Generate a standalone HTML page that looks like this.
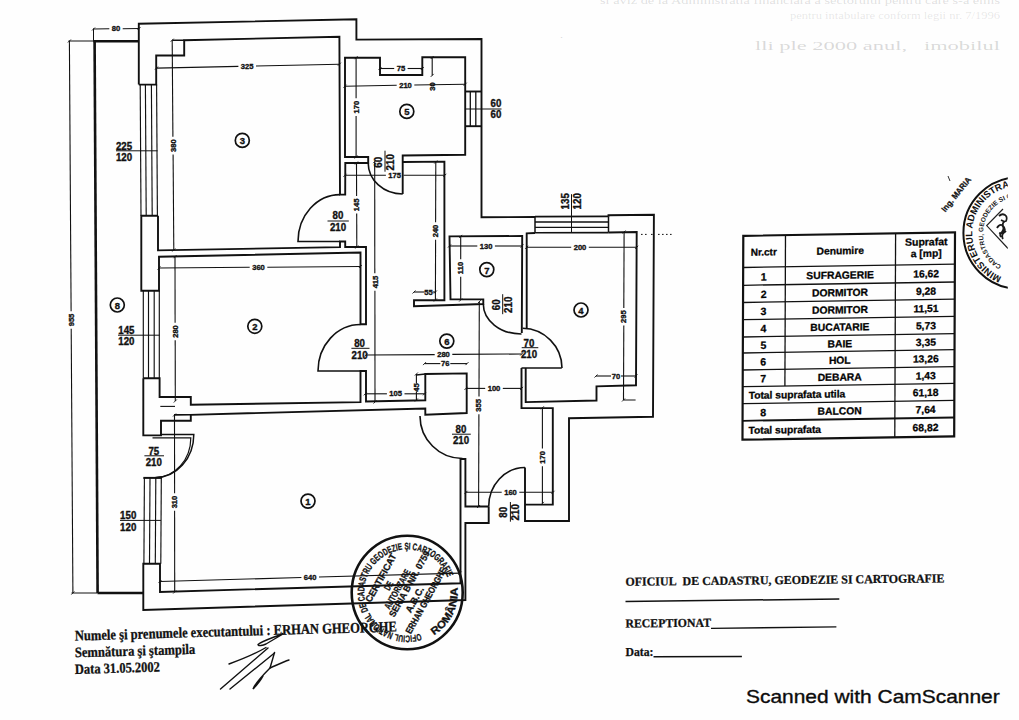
<!DOCTYPE html>
<html><head><meta charset="utf-8">
<style>
html,body{margin:0;padding:0;background:#fefefe;}
body{width:1019px;height:720px;overflow:hidden;position:relative;}
svg{position:absolute;left:0;top:0;-webkit-font-smoothing:antialiased;}
</style></head><body>
<svg width="1019" height="720" viewBox="0 0 1019 720">
<defs><clipPath id="clipR"><rect x="900" y="150" width="107.8" height="160"/></clipPath></defs>
<rect width="1019" height="720" fill="#fefefe"/>
<g fill="#111">
<polyline points="138.8,84.6 138.8,23.7 356.4,19.3 356.4,39.6 481.5,39.0 481.5,217.3 535.0,217.0" fill="none" stroke="#111" stroke-width="1.9" stroke-linejoin="miter" />
<polyline points="608.5,216.7 608.5,215.2 653.9,214.7 653.0,416.7 569.0,418.3 569.0,521.0 525.0,521.0 525.0,467.5" fill="none" stroke="#111" stroke-width="1.9" stroke-linejoin="miter" />
<polyline points="488.7,506.5 488.7,523.0 465.4,523.0 465.4,600.0 143.3,610.0 143.3,563.7 160.0,563.7 160.0,591.9 460.5,583.3 460.5,459.0 465.4,459.0 465.4,506.5 488.7,506.5" fill="none" stroke="#111" stroke-width="1.9" stroke-linejoin="miter" />
<polyline points="535.0,217.0 535.0,232.5" fill="none" stroke="#111" stroke-width="1.5" stroke-linejoin="miter" />
<polyline points="608.5,216.7 608.5,232.5" fill="none" stroke="#111" stroke-width="1.5" stroke-linejoin="miter" />
<line x1="535.0" y1="216.6" x2="608.5" y2="216.4" stroke="#111" stroke-width="1.9"/>
<line x1="535.0" y1="222.0" x2="608.5" y2="222.0" stroke="#111" stroke-width="1.4"/>
<line x1="535.0" y1="227.4" x2="608.5" y2="227.4" stroke="#111" stroke-width="1.4"/>
<line x1="535.0" y1="232.7" x2="608.5" y2="232.6" stroke="#111" stroke-width="1.6"/>
<polyline points="138.8,84.6 156.2,84.6 156.2,55.5 184.2,55.5 184.2,40.2 339.4,36.7 340.0,194.6 345.2,194.6 345.3,163.0 368.2,163.0 368.2,157.0 345.0,157.0 345.0,57.7 380.0,57.7 380.0,75.0 422.3,75.0 422.3,57.3 465.2,57.3 465.2,154.7 402.7,155.5 402.7,194.0" fill="none" stroke="#111" stroke-width="1.9" stroke-linejoin="miter" />
<line x1="470.3" y1="91.5" x2="470.3" y2="126.2" stroke="#111" stroke-width="1.3"/>
<line x1="475.8" y1="91.5" x2="475.8" y2="126.2" stroke="#111" stroke-width="1.3"/>
<line x1="465.2" y1="91.5" x2="481.5" y2="91.5" stroke="#111" stroke-width="1.9"/>
<line x1="465.2" y1="126.2" x2="481.5" y2="126.2" stroke="#111" stroke-width="1.9"/>
<polyline points="402.7,162.0 444.4,161.6 444.4,300.3 414.0,300.3 414.0,306.2 483.3,304.0 483.3,299.4 450.5,299.4 449.5,236.4 522.2,236.0 521.8,333.0" fill="none" stroke="#111" stroke-width="1.9" stroke-linejoin="miter" />
<polyline points="526.7,328.0 526.7,233.3 535.0,233.0" fill="none" stroke="#111" stroke-width="1.9" stroke-linejoin="miter" />
<polyline points="608.5,232.5 636.7,232.0 636.0,385.3 596.5,386.4 596.5,400.5 525.7,402.1 525.7,368.0" fill="none" stroke="#111" stroke-width="1.9" stroke-linejoin="miter" />
<polyline points="521.5,368.0 521.5,408.1 552.8,408.1 552.8,504.6 525.0,504.6" fill="none" stroke="#111" stroke-width="1.9" stroke-linejoin="miter" />
<line x1="521.5" y1="368.0" x2="561.8" y2="368.0" stroke="#111" stroke-width="1.6"/>
<polyline points="158.0,215.8 158.0,250.4 340.0,247.1 340.0,241.5 345.2,241.5 345.2,247.0 366.0,247.0 366.0,324.3 360.5,324.3 360.5,252.5 159.0,256.7 159.0,290.8 141.3,290.8 141.3,215.8 158.0,215.8" fill="none" stroke="#111" stroke-width="1.9" stroke-linejoin="miter" />
<line x1="140.2" y1="84.6" x2="141.0" y2="215.8" stroke="#111" stroke-width="1.15"/>
<line x1="145.4" y1="84.6" x2="146.2" y2="215.8" stroke="#111" stroke-width="1.15"/>
<line x1="151.4" y1="84.6" x2="152.2" y2="215.8" stroke="#111" stroke-width="1.15"/>
<line x1="156.6" y1="84.6" x2="157.4" y2="215.8" stroke="#111" stroke-width="1.15"/>
<line x1="143.3" y1="290.8" x2="143.3" y2="378.3" stroke="#111" stroke-width="1.15"/>
<line x1="148.5" y1="290.8" x2="148.5" y2="378.3" stroke="#111" stroke-width="1.15"/>
<line x1="154.2" y1="290.8" x2="154.2" y2="378.3" stroke="#111" stroke-width="1.15"/>
<line x1="159.3" y1="290.8" x2="159.3" y2="378.3" stroke="#111" stroke-width="1.15"/>
<polyline points="143.3,378.3 143.3,435.4 161.0,435.4 161.0,420.8 190.8,420.8 190.8,414.8 425.3,408.5 425.3,414.8 466.7,413.0 466.7,373.4 425.3,374.0 425.3,400.2 366.0,401.5 366.0,371.0 360.5,371.0 360.5,402.1 190.8,404.8 190.8,397.0 159.6,397.0 159.6,378.3 143.3,378.3" fill="none" stroke="#111" stroke-width="1.9" stroke-linejoin="miter" />
<line x1="144.4" y1="478.0" x2="143.9" y2="563.7" stroke="#111" stroke-width="1.15"/>
<line x1="150.0" y1="478.0" x2="149.5" y2="563.7" stroke="#111" stroke-width="1.15"/>
<line x1="155.8" y1="478.0" x2="155.3" y2="563.7" stroke="#111" stroke-width="1.15"/>
<line x1="161.3" y1="478.0" x2="160.8" y2="563.7" stroke="#111" stroke-width="1.15"/>
<line x1="143.3" y1="477.9" x2="161.7" y2="477.9" stroke="#111" stroke-width="2.0"/>
<line x1="68.5" y1="41.0" x2="93.5" y2="41.0" stroke="#111" stroke-width="1.0"/>
<line x1="93.5" y1="41.3" x2="139.0" y2="41.3" stroke="#111" stroke-width="2.6"/>
<polyline points="94.6,41.0 97.6,593.0" fill="none" stroke="#111" stroke-width="2.6" stroke-linejoin="miter" />
<line x1="71.5" y1="593.0" x2="97.5" y2="593.0" stroke="#111" stroke-width="1.0"/>
<line x1="97.5" y1="593.0" x2="143.3" y2="593.0" stroke="#111" stroke-width="2.6"/>
<path d="M 340 194.6 A 42 47 0 0 0 298 241.5 L 340 241.5" fill="none" stroke="#111" stroke-width="1.6" />
<path d="M 360.5 324.5 A 42.5 46.5 0 0 0 318 371 L 360.5 371" fill="none" stroke="#111" stroke-width="1.6" />
<path d="M 368.2 163 A 34.5 31 0 0 0 402.7 194" fill="none" stroke="#111" stroke-width="1.6" />
<path d="M 420 416 A 42.5 42.5 0 0 0 462.5 458.5" fill="none" stroke="#111" stroke-width="1.6" />
<path d="M 483.3 304 A 38 30 0 0 0 521.5 334" fill="none" stroke="#111" stroke-width="1.6" />
<path d="M 522.7 328.3 A 40 40 0 0 1 562 368" fill="none" stroke="#111" stroke-width="1.6" />
<path d="M 488.7 506.5 A 36.5 39 0 0 1 525 467.5" fill="none" stroke="#111" stroke-width="1.6" />
<path d="M 161 434.4 L 193.8 434.4 A 38.8 43.3 0 0 1 155 477.7" fill="none" stroke="#111" stroke-width="1.5" />
<path d="M 152.5 437.9 L 190.8 437.9 A 35.8 39.6 0 0 1 155 477.5" fill="none" stroke="#111" stroke-width="1.2" />
<line x1="93.5" y1="28.5" x2="93.5" y2="41.5" stroke="#111" stroke-width="1.0"/>
<line x1="172.2" y1="40.3" x2="184.2" y2="40.2" stroke="#111" stroke-width="1.6"/>
<line x1="160.3" y1="406.4" x2="175.0" y2="406.4" stroke="#111" stroke-width="1.1"/>
<line x1="174.0" y1="414.9" x2="190.8" y2="414.8" stroke="#111" stroke-width="1.6"/>
<line x1="416.3" y1="375.0" x2="425.3" y2="374.0" stroke="#111" stroke-width="1.3"/>
<line x1="93.5" y1="29.0" x2="109.3" y2="28.8" stroke="#111" stroke-width="1.1"/>
<line x1="122.7" y1="28.7" x2="139.0" y2="28.5" stroke="#111" stroke-width="1.1"/>
<line x1="92.0" y1="30.5" x2="95.0" y2="27.5" stroke="#111" stroke-width="0.9"/>
<line x1="137.5" y1="30.0" x2="140.5" y2="27.0" stroke="#111" stroke-width="0.9"/>
<text x="116.0" y="28.8" font-family="Liberation Sans" font-size="7.90" font-weight="bold" text-anchor="middle" dominant-baseline="central" textLength="8.45" lengthAdjust="spacingAndGlyphs" stroke="#111" stroke-width="0.35" >80</text>
<line x1="69.4" y1="41.0" x2="71.1" y2="311.2" stroke="#111" stroke-width="1.1"/>
<line x1="71.2" y1="328.8" x2="72.9" y2="593.0" stroke="#111" stroke-width="1.1"/>
<line x1="67.9" y1="42.5" x2="70.9" y2="39.5" stroke="#111" stroke-width="0.9"/>
<line x1="71.4" y1="594.5" x2="74.4" y2="591.5" stroke="#111" stroke-width="0.9"/>
<text x="71.5" y="320.0" font-family="Liberation Sans" font-size="7.90" font-weight="bold" text-anchor="middle" dominant-baseline="central" textLength="12.68" lengthAdjust="spacingAndGlyphs" stroke="#111" stroke-width="0.35" transform="rotate(-90 71.5 320.0)" >955</text>
<line x1="156.5" y1="68.1" x2="238.4" y2="66.4" stroke="#111" stroke-width="1.1"/>
<line x1="256.0" y1="66.0" x2="339.4" y2="64.2" stroke="#111" stroke-width="1.1"/>
<line x1="155.0" y1="69.6" x2="158.0" y2="66.6" stroke="#111" stroke-width="0.9"/>
<line x1="337.9" y1="65.7" x2="340.9" y2="62.7" stroke="#111" stroke-width="0.9"/>
<text x="247.2" y="66.2" font-family="Liberation Sans" font-size="7.90" font-weight="bold" text-anchor="middle" dominant-baseline="central" textLength="12.68" lengthAdjust="spacingAndGlyphs" stroke="#111" stroke-width="0.35" >325</text>
<line x1="172.2" y1="40.2" x2="172.9" y2="136.8" stroke="#111" stroke-width="1.1"/>
<line x1="173.1" y1="154.4" x2="173.8" y2="250.0" stroke="#111" stroke-width="1.1"/>
<line x1="170.7" y1="41.7" x2="173.7" y2="38.7" stroke="#111" stroke-width="0.9"/>
<line x1="172.3" y1="251.5" x2="175.3" y2="248.5" stroke="#111" stroke-width="0.9"/>
<text x="173.3" y="145.6" font-family="Liberation Sans" font-size="7.90" font-weight="bold" text-anchor="middle" dominant-baseline="central" textLength="12.68" lengthAdjust="spacingAndGlyphs" stroke="#111" stroke-width="0.35" transform="rotate(-90 173.3 145.6)" >380</text>
<line x1="159.0" y1="268.0" x2="249.7" y2="267.3" stroke="#111" stroke-width="1.1"/>
<line x1="267.3" y1="267.2" x2="360.4" y2="266.5" stroke="#111" stroke-width="1.1"/>
<line x1="157.5" y1="269.5" x2="160.5" y2="266.5" stroke="#111" stroke-width="0.9"/>
<line x1="358.9" y1="268.0" x2="361.9" y2="265.0" stroke="#111" stroke-width="0.9"/>
<text x="258.5" y="267.4" font-family="Liberation Sans" font-size="7.90" font-weight="bold" text-anchor="middle" dominant-baseline="central" textLength="12.68" lengthAdjust="spacingAndGlyphs" stroke="#111" stroke-width="0.35" >360</text>
<line x1="175.0" y1="256.7" x2="175.1" y2="322.7" stroke="#111" stroke-width="1.1"/>
<line x1="175.2" y1="340.3" x2="175.3" y2="401.0" stroke="#111" stroke-width="1.1"/>
<line x1="173.5" y1="258.2" x2="176.5" y2="255.2" stroke="#111" stroke-width="0.9"/>
<line x1="173.8" y1="402.5" x2="176.8" y2="399.5" stroke="#111" stroke-width="0.9"/>
<text x="175.2" y="331.5" font-family="Liberation Sans" font-size="7.90" font-weight="bold" text-anchor="middle" dominant-baseline="central" textLength="12.68" lengthAdjust="spacingAndGlyphs" stroke="#111" stroke-width="0.35" transform="rotate(-90 175.2 331.5)" >280</text>
<line x1="174.5" y1="415.0" x2="174.6" y2="493.2" stroke="#111" stroke-width="1.1"/>
<line x1="174.6" y1="510.8" x2="174.7" y2="592.0" stroke="#111" stroke-width="1.1"/>
<line x1="173.0" y1="416.5" x2="176.0" y2="413.5" stroke="#111" stroke-width="0.9"/>
<line x1="173.2" y1="593.5" x2="176.2" y2="590.5" stroke="#111" stroke-width="0.9"/>
<text x="174.6" y="502.0" font-family="Liberation Sans" font-size="7.90" font-weight="bold" text-anchor="middle" dominant-baseline="central" textLength="12.68" lengthAdjust="spacingAndGlyphs" stroke="#111" stroke-width="0.35" transform="rotate(-90 174.6 502.0)" >310</text>
<line x1="160.0" y1="581.5" x2="301.4" y2="577.5" stroke="#111" stroke-width="1.1"/>
<line x1="319.0" y1="577.0" x2="460.0" y2="573.1" stroke="#111" stroke-width="1.1"/>
<line x1="158.5" y1="583.0" x2="161.5" y2="580.0" stroke="#111" stroke-width="0.9"/>
<line x1="458.5" y1="574.6" x2="461.5" y2="571.6" stroke="#111" stroke-width="0.9"/>
<text x="310.2" y="577.3" font-family="Liberation Sans" font-size="7.90" font-weight="bold" text-anchor="middle" dominant-baseline="central" textLength="12.68" lengthAdjust="spacingAndGlyphs" stroke="#111" stroke-width="0.35" >640</text>
<line x1="356.1" y1="57.7" x2="356.1" y2="98.3" stroke="#111" stroke-width="1.1"/>
<line x1="356.1" y1="115.9" x2="356.1" y2="157.0" stroke="#111" stroke-width="1.1"/>
<line x1="354.6" y1="59.2" x2="357.6" y2="56.2" stroke="#111" stroke-width="0.9"/>
<line x1="354.6" y1="158.5" x2="357.6" y2="155.5" stroke="#111" stroke-width="0.9"/>
<text x="356.1" y="107.1" font-family="Liberation Sans" font-size="7.90" font-weight="bold" text-anchor="middle" dominant-baseline="central" textLength="12.68" lengthAdjust="spacingAndGlyphs" stroke="#111" stroke-width="0.35" transform="rotate(-90 356.1 107.1)" >170</text>
<line x1="380.0" y1="68.5" x2="394.2" y2="68.5" stroke="#111" stroke-width="1.1"/>
<line x1="407.6" y1="68.5" x2="422.3" y2="68.5" stroke="#111" stroke-width="1.1"/>
<line x1="378.5" y1="70.0" x2="381.5" y2="67.0" stroke="#111" stroke-width="0.9"/>
<line x1="420.8" y1="70.0" x2="423.8" y2="67.0" stroke="#111" stroke-width="0.9"/>
<text x="400.9" y="68.5" font-family="Liberation Sans" font-size="7.90" font-weight="bold" text-anchor="middle" dominant-baseline="central" textLength="8.45" lengthAdjust="spacingAndGlyphs" stroke="#111" stroke-width="0.35" >75</text>
<line x1="432.2" y1="57.5" x2="432.2" y2="66.0" stroke="#111" stroke-width="1.1"/>
<line x1="432.2" y1="66.0" x2="432.2" y2="75.4" stroke="#111" stroke-width="1.1"/>
<line x1="430.7" y1="59.0" x2="433.7" y2="56.0" stroke="#111" stroke-width="0.9"/>
<line x1="430.7" y1="76.9" x2="433.7" y2="73.9" stroke="#111" stroke-width="0.9"/>
<text x="432.2" y="86.6" font-family="Liberation Sans" font-size="7.90" font-weight="bold" text-anchor="middle" dominant-baseline="central" textLength="8.45" lengthAdjust="spacingAndGlyphs" stroke="#111" stroke-width="0.35" transform="rotate(-90 432.2 86.6)" >30</text>
<line x1="345.0" y1="86.2" x2="396.7" y2="85.3" stroke="#111" stroke-width="1.1"/>
<line x1="414.3" y1="85.0" x2="465.2" y2="84.2" stroke="#111" stroke-width="1.1"/>
<line x1="343.5" y1="87.7" x2="346.5" y2="84.7" stroke="#111" stroke-width="0.9"/>
<line x1="463.7" y1="85.7" x2="466.7" y2="82.7" stroke="#111" stroke-width="0.9"/>
<text x="405.5" y="85.5" font-family="Liberation Sans" font-size="7.90" font-weight="bold" text-anchor="middle" dominant-baseline="central" textLength="12.68" lengthAdjust="spacingAndGlyphs" stroke="#111" stroke-width="0.35" >210</text>
<line x1="356.5" y1="163.0" x2="356.6" y2="196.0" stroke="#111" stroke-width="1.1"/>
<line x1="356.7" y1="213.6" x2="356.8" y2="247.0" stroke="#111" stroke-width="1.1"/>
<line x1="355.0" y1="164.5" x2="358.0" y2="161.5" stroke="#111" stroke-width="0.9"/>
<line x1="355.3" y1="248.5" x2="358.3" y2="245.5" stroke="#111" stroke-width="0.9"/>
<text x="356.6" y="204.8" font-family="Liberation Sans" font-size="7.90" font-weight="bold" text-anchor="middle" dominant-baseline="central" textLength="12.68" lengthAdjust="spacingAndGlyphs" stroke="#111" stroke-width="0.35" transform="rotate(-90 356.6 204.8)" >145</text>
<line x1="374.7" y1="161.6" x2="374.8" y2="273.2" stroke="#111" stroke-width="1.1"/>
<line x1="374.9" y1="290.8" x2="375.0" y2="402.0" stroke="#111" stroke-width="1.1"/>
<line x1="373.2" y1="163.1" x2="376.2" y2="160.1" stroke="#111" stroke-width="0.9"/>
<line x1="373.5" y1="403.5" x2="376.5" y2="400.5" stroke="#111" stroke-width="0.9"/>
<text x="375.0" y="282.0" font-family="Liberation Sans" font-size="7.90" font-weight="bold" text-anchor="middle" dominant-baseline="central" textLength="12.68" lengthAdjust="spacingAndGlyphs" stroke="#111" stroke-width="0.35" transform="rotate(-90 375.0 282.0)" >415</text>
<line x1="345.0" y1="175.3" x2="385.9" y2="175.3" stroke="#111" stroke-width="1.1"/>
<line x1="403.5" y1="175.3" x2="444.8" y2="175.3" stroke="#111" stroke-width="1.1"/>
<line x1="343.5" y1="176.8" x2="346.5" y2="173.8" stroke="#111" stroke-width="0.9"/>
<line x1="443.3" y1="176.8" x2="446.3" y2="173.8" stroke="#111" stroke-width="0.9"/>
<text x="394.7" y="175.3" font-family="Liberation Sans" font-size="7.90" font-weight="bold" text-anchor="middle" dominant-baseline="central" textLength="12.68" lengthAdjust="spacingAndGlyphs" stroke="#111" stroke-width="0.35" >175</text>
<line x1="435.8" y1="162.0" x2="435.6" y2="222.2" stroke="#111" stroke-width="1.1"/>
<line x1="435.6" y1="239.8" x2="435.4" y2="300.0" stroke="#111" stroke-width="1.1"/>
<line x1="434.3" y1="163.5" x2="437.3" y2="160.5" stroke="#111" stroke-width="0.9"/>
<line x1="433.9" y1="301.5" x2="436.9" y2="298.5" stroke="#111" stroke-width="0.9"/>
<text x="435.8" y="231.0" font-family="Liberation Sans" font-size="7.90" font-weight="bold" text-anchor="middle" dominant-baseline="central" textLength="12.68" lengthAdjust="spacingAndGlyphs" stroke="#111" stroke-width="0.35" transform="rotate(-90 435.8 231.0)" >240</text>
<line x1="414.0" y1="292.0" x2="424.5" y2="292.0" stroke="#111" stroke-width="1.1"/>
<line x1="432.5" y1="292.0" x2="435.4" y2="292.0" stroke="#111" stroke-width="1.1"/>
<line x1="412.5" y1="293.5" x2="415.5" y2="290.5" stroke="#111" stroke-width="0.9"/>
<line x1="433.9" y1="293.5" x2="436.9" y2="290.5" stroke="#111" stroke-width="0.9"/>
<text x="428.5" y="292.0" font-family="Liberation Sans" font-size="7.90" font-weight="bold" text-anchor="middle" dominant-baseline="central" textLength="8.45" lengthAdjust="spacingAndGlyphs" stroke="#111" stroke-width="0.35" >55</text>
<line x1="449.5" y1="246.0" x2="477.3" y2="246.0" stroke="#111" stroke-width="1.1"/>
<line x1="494.9" y1="246.0" x2="522.0" y2="246.0" stroke="#111" stroke-width="1.1"/>
<line x1="448.0" y1="247.5" x2="451.0" y2="244.5" stroke="#111" stroke-width="0.9"/>
<line x1="520.5" y1="247.5" x2="523.5" y2="244.5" stroke="#111" stroke-width="0.9"/>
<text x="486.1" y="246.0" font-family="Liberation Sans" font-size="7.90" font-weight="bold" text-anchor="middle" dominant-baseline="central" textLength="12.68" lengthAdjust="spacingAndGlyphs" stroke="#111" stroke-width="0.35" >130</text>
<line x1="460.7" y1="236.4" x2="460.7" y2="259.2" stroke="#111" stroke-width="1.1"/>
<line x1="460.7" y1="276.8" x2="460.7" y2="300.0" stroke="#111" stroke-width="1.1"/>
<line x1="459.2" y1="237.9" x2="462.2" y2="234.9" stroke="#111" stroke-width="0.9"/>
<line x1="459.2" y1="301.5" x2="462.2" y2="298.5" stroke="#111" stroke-width="0.9"/>
<text x="460.7" y="268.0" font-family="Liberation Sans" font-size="7.90" font-weight="bold" text-anchor="middle" dominant-baseline="central" textLength="12.26" lengthAdjust="spacingAndGlyphs" stroke="#111" stroke-width="0.35" transform="rotate(-90 460.7 268.0)" >110</text>
<line x1="526.7" y1="247.3" x2="571.2" y2="247.3" stroke="#111" stroke-width="1.1"/>
<line x1="588.8" y1="247.3" x2="636.7" y2="247.3" stroke="#111" stroke-width="1.1"/>
<line x1="525.2" y1="248.8" x2="528.2" y2="245.8" stroke="#111" stroke-width="0.9"/>
<line x1="635.2" y1="248.8" x2="638.2" y2="245.8" stroke="#111" stroke-width="0.9"/>
<text x="580.0" y="247.3" font-family="Liberation Sans" font-size="7.90" font-weight="bold" text-anchor="middle" dominant-baseline="central" textLength="12.68" lengthAdjust="spacingAndGlyphs" stroke="#111" stroke-width="0.35" >200</text>
<line x1="624.1" y1="232.0" x2="623.8" y2="307.9" stroke="#111" stroke-width="1.1"/>
<line x1="623.8" y1="325.5" x2="623.5" y2="400.0" stroke="#111" stroke-width="1.1"/>
<line x1="622.6" y1="233.5" x2="625.6" y2="230.5" stroke="#111" stroke-width="0.9"/>
<line x1="622.0" y1="401.5" x2="625.0" y2="398.5" stroke="#111" stroke-width="0.9"/>
<text x="623.8" y="316.7" font-family="Liberation Sans" font-size="7.90" font-weight="bold" text-anchor="middle" dominant-baseline="central" textLength="12.68" lengthAdjust="spacingAndGlyphs" stroke="#111" stroke-width="0.35" transform="rotate(-90 623.8 316.7)" >295</text>
<line x1="623.5" y1="400.0" x2="635.6" y2="400.0" stroke="#111" stroke-width="1.0"/>
<line x1="641.0" y1="234.4" x2="642.6" y2="234.4" stroke="#111" stroke-width="1.0"/>
<line x1="645.0" y1="234.4" x2="646.6" y2="234.4" stroke="#111" stroke-width="1.0"/>
<line x1="651.0" y1="234.4" x2="652.6" y2="234.4" stroke="#111" stroke-width="1.0"/>
<line x1="658.0" y1="234.4" x2="659.6" y2="234.4" stroke="#111" stroke-width="1.0"/>
<line x1="662.0" y1="234.4" x2="663.6" y2="234.4" stroke="#111" stroke-width="1.0"/>
<line x1="666.0" y1="234.4" x2="667.6" y2="234.4" stroke="#111" stroke-width="1.0"/>
<line x1="670.0" y1="234.4" x2="671.6" y2="234.4" stroke="#111" stroke-width="1.0"/>
<line x1="596.0" y1="376.0" x2="611.0" y2="376.0" stroke="#111" stroke-width="1.1"/>
<line x1="621.0" y1="376.0" x2="636.0" y2="376.0" stroke="#111" stroke-width="1.1"/>
<line x1="594.5" y1="377.5" x2="597.5" y2="374.5" stroke="#111" stroke-width="0.9"/>
<line x1="634.5" y1="377.5" x2="637.5" y2="374.5" stroke="#111" stroke-width="0.9"/>
<text x="616.0" y="376.0" font-family="Liberation Sans" font-size="7.90" font-weight="bold" text-anchor="middle" dominant-baseline="central" textLength="8.45" lengthAdjust="spacingAndGlyphs" stroke="#111" stroke-width="0.35" >70</text>
<line x1="365.9" y1="355.0" x2="434.7" y2="354.6" stroke="#111" stroke-width="1.1"/>
<line x1="452.3" y1="354.4" x2="521.7" y2="354.0" stroke="#111" stroke-width="1.1"/>
<line x1="364.4" y1="356.5" x2="367.4" y2="353.5" stroke="#111" stroke-width="0.9"/>
<line x1="520.2" y1="355.5" x2="523.2" y2="352.5" stroke="#111" stroke-width="0.9"/>
<text x="443.5" y="354.3" font-family="Liberation Sans" font-size="7.90" font-weight="bold" text-anchor="middle" dominant-baseline="central" textLength="12.68" lengthAdjust="spacingAndGlyphs" stroke="#111" stroke-width="0.35" >280</text>
<line x1="424.5" y1="363.6" x2="440.3" y2="363.6" stroke="#111" stroke-width="1.1"/>
<line x1="450.3" y1="363.6" x2="467.0" y2="363.6" stroke="#111" stroke-width="1.1"/>
<line x1="423.0" y1="365.1" x2="426.0" y2="362.1" stroke="#111" stroke-width="0.9"/>
<line x1="465.5" y1="365.1" x2="468.5" y2="362.1" stroke="#111" stroke-width="0.9"/>
<text x="445.3" y="363.6" font-family="Liberation Sans" font-size="7.90" font-weight="bold" text-anchor="middle" dominant-baseline="central" textLength="8.45" lengthAdjust="spacingAndGlyphs" stroke="#111" stroke-width="0.35" >76</text>
<line x1="365.3" y1="393.8" x2="386.9" y2="393.8" stroke="#111" stroke-width="1.1"/>
<line x1="404.5" y1="393.8" x2="424.5" y2="393.8" stroke="#111" stroke-width="1.1"/>
<line x1="363.8" y1="395.3" x2="366.8" y2="392.3" stroke="#111" stroke-width="0.9"/>
<line x1="423.0" y1="395.3" x2="426.0" y2="392.3" stroke="#111" stroke-width="0.9"/>
<text x="395.7" y="393.8" font-family="Liberation Sans" font-size="7.90" font-weight="bold" text-anchor="middle" dominant-baseline="central" textLength="12.68" lengthAdjust="spacingAndGlyphs" stroke="#111" stroke-width="0.35" >105</text>
<line x1="416.4" y1="374.0" x2="416.4" y2="383.5" stroke="#111" stroke-width="1.1"/>
<line x1="416.4" y1="391.5" x2="416.4" y2="400.0" stroke="#111" stroke-width="1.1"/>
<line x1="414.9" y1="375.5" x2="417.9" y2="372.5" stroke="#111" stroke-width="0.9"/>
<line x1="414.9" y1="401.5" x2="417.9" y2="398.5" stroke="#111" stroke-width="0.9"/>
<text x="416.4" y="387.5" font-family="Liberation Sans" font-size="7.90" font-weight="bold" text-anchor="middle" dominant-baseline="central" textLength="8.45" lengthAdjust="spacingAndGlyphs" stroke="#111" stroke-width="0.35" transform="rotate(-90 416.4 387.5)" >45</text>
<line x1="466.0" y1="388.4" x2="485.2" y2="388.4" stroke="#111" stroke-width="1.1"/>
<line x1="502.8" y1="388.4" x2="521.6" y2="388.4" stroke="#111" stroke-width="1.1"/>
<line x1="464.5" y1="389.9" x2="467.5" y2="386.9" stroke="#111" stroke-width="0.9"/>
<line x1="520.1" y1="389.9" x2="523.1" y2="386.9" stroke="#111" stroke-width="0.9"/>
<text x="494.0" y="388.4" font-family="Liberation Sans" font-size="7.90" font-weight="bold" text-anchor="middle" dominant-baseline="central" textLength="12.68" lengthAdjust="spacingAndGlyphs" stroke="#111" stroke-width="0.35" >100</text>
<line x1="479.3" y1="301.7" x2="479.0" y2="396.6" stroke="#111" stroke-width="1.1"/>
<line x1="478.9" y1="414.2" x2="478.6" y2="506.5" stroke="#111" stroke-width="1.1"/>
<line x1="477.8" y1="303.2" x2="480.8" y2="300.2" stroke="#111" stroke-width="0.9"/>
<line x1="477.1" y1="508.0" x2="480.1" y2="505.0" stroke="#111" stroke-width="0.9"/>
<text x="478.6" y="405.4" font-family="Liberation Sans" font-size="7.90" font-weight="bold" text-anchor="middle" dominant-baseline="central" textLength="12.68" lengthAdjust="spacingAndGlyphs" stroke="#111" stroke-width="0.35" transform="rotate(-90 478.6 405.4)" >355</text>
<line x1="542.4" y1="407.8" x2="542.4" y2="448.6" stroke="#111" stroke-width="1.1"/>
<line x1="542.4" y1="466.2" x2="542.4" y2="503.4" stroke="#111" stroke-width="1.1"/>
<line x1="540.9" y1="409.3" x2="543.9" y2="406.3" stroke="#111" stroke-width="0.9"/>
<line x1="540.9" y1="504.9" x2="543.9" y2="501.9" stroke="#111" stroke-width="0.9"/>
<text x="542.4" y="457.4" font-family="Liberation Sans" font-size="7.90" font-weight="bold" text-anchor="middle" dominant-baseline="central" textLength="12.68" lengthAdjust="spacingAndGlyphs" stroke="#111" stroke-width="0.35" transform="rotate(-90 542.4 457.4)" >170</text>
<line x1="466.0" y1="492.3" x2="501.7" y2="492.3" stroke="#111" stroke-width="1.1"/>
<line x1="519.3" y1="492.3" x2="553.0" y2="492.3" stroke="#111" stroke-width="1.1"/>
<line x1="464.5" y1="493.8" x2="467.5" y2="490.8" stroke="#111" stroke-width="0.9"/>
<line x1="551.5" y1="493.8" x2="554.5" y2="490.8" stroke="#111" stroke-width="0.9"/>
<text x="510.5" y="492.3" font-family="Liberation Sans" font-size="7.90" font-weight="bold" text-anchor="middle" dominant-baseline="central" textLength="12.68" lengthAdjust="spacingAndGlyphs" stroke="#111" stroke-width="0.35" >160</text>
<text x="124.0" y="146.2" font-family="Liberation Sans" font-size="10.09" font-weight="bold" text-anchor="middle" dominant-baseline="central" textLength="16.18" lengthAdjust="spacingAndGlyphs" stroke="#111" stroke-width="0.35" >225</text>
<text x="124.0" y="157.5" font-family="Liberation Sans" font-size="10.09" font-weight="bold" text-anchor="middle" dominant-baseline="central" textLength="16.18" lengthAdjust="spacingAndGlyphs" stroke="#111" stroke-width="0.35" >120</text>
<line x1="116.0" y1="150.8" x2="157.5" y2="150.8" stroke="#111" stroke-width="1.0"/>
<text x="126.4" y="330.0" font-family="Liberation Sans" font-size="10.09" font-weight="bold" text-anchor="middle" dominant-baseline="central" textLength="16.18" lengthAdjust="spacingAndGlyphs" stroke="#111" stroke-width="0.35" >145</text>
<text x="126.4" y="341.3" font-family="Liberation Sans" font-size="10.09" font-weight="bold" text-anchor="middle" dominant-baseline="central" textLength="16.18" lengthAdjust="spacingAndGlyphs" stroke="#111" stroke-width="0.35" >120</text>
<line x1="118.0" y1="335.2" x2="159.5" y2="335.2" stroke="#111" stroke-width="1.0"/>
<text x="128.2" y="515.6" font-family="Liberation Sans" font-size="10.09" font-weight="bold" text-anchor="middle" dominant-baseline="central" textLength="16.18" lengthAdjust="spacingAndGlyphs" stroke="#111" stroke-width="0.35" >150</text>
<text x="128.2" y="527.0" font-family="Liberation Sans" font-size="10.09" font-weight="bold" text-anchor="middle" dominant-baseline="central" textLength="16.18" lengthAdjust="spacingAndGlyphs" stroke="#111" stroke-width="0.35" >120</text>
<line x1="120.0" y1="520.4" x2="161.0" y2="520.4" stroke="#111" stroke-width="1.0"/>
<text x="153.8" y="451.0" font-family="Liberation Sans" font-size="10.09" font-weight="bold" text-anchor="middle" dominant-baseline="central" textLength="10.79" lengthAdjust="spacingAndGlyphs" stroke="#111" stroke-width="0.35" >75</text>
<text x="153.8" y="462.0" font-family="Liberation Sans" font-size="10.09" font-weight="bold" text-anchor="middle" dominant-baseline="central" textLength="16.18" lengthAdjust="spacingAndGlyphs" stroke="#111" stroke-width="0.35" >210</text>
<line x1="144.4" y1="455.8" x2="164.0" y2="455.8" stroke="#111" stroke-width="1.0"/>
<text x="338.0" y="215.5" font-family="Liberation Sans" font-size="10.09" font-weight="bold" text-anchor="middle" dominant-baseline="central" textLength="10.79" lengthAdjust="spacingAndGlyphs" stroke="#111" stroke-width="0.35" >80</text>
<text x="338.0" y="227.0" font-family="Liberation Sans" font-size="10.09" font-weight="bold" text-anchor="middle" dominant-baseline="central" textLength="16.18" lengthAdjust="spacingAndGlyphs" stroke="#111" stroke-width="0.35" >210</text>
<line x1="327.5" y1="221.0" x2="348.8" y2="221.0" stroke="#111" stroke-width="1.0"/>
<text x="359.6" y="343.2" font-family="Liberation Sans" font-size="10.09" font-weight="bold" text-anchor="middle" dominant-baseline="central" textLength="10.79" lengthAdjust="spacingAndGlyphs" stroke="#111" stroke-width="0.35" >80</text>
<text x="359.6" y="355.0" font-family="Liberation Sans" font-size="10.09" font-weight="bold" text-anchor="middle" dominant-baseline="central" textLength="16.18" lengthAdjust="spacingAndGlyphs" stroke="#111" stroke-width="0.35" >210</text>
<line x1="351.4" y1="348.3" x2="369.5" y2="348.3" stroke="#111" stroke-width="1.0"/>
<text x="461.0" y="429.0" font-family="Liberation Sans" font-size="10.09" font-weight="bold" text-anchor="middle" dominant-baseline="central" textLength="10.79" lengthAdjust="spacingAndGlyphs" stroke="#111" stroke-width="0.35" >80</text>
<text x="461.0" y="440.8" font-family="Liberation Sans" font-size="10.09" font-weight="bold" text-anchor="middle" dominant-baseline="central" textLength="16.18" lengthAdjust="spacingAndGlyphs" stroke="#111" stroke-width="0.35" >210</text>
<line x1="452.0" y1="434.2" x2="470.8" y2="434.2" stroke="#111" stroke-width="1.0"/>
<text x="529.0" y="343.3" font-family="Liberation Sans" font-size="10.09" font-weight="bold" text-anchor="middle" dominant-baseline="central" textLength="10.79" lengthAdjust="spacingAndGlyphs" stroke="#111" stroke-width="0.35" >70</text>
<text x="529.0" y="354.0" font-family="Liberation Sans" font-size="10.09" font-weight="bold" text-anchor="middle" dominant-baseline="central" textLength="16.18" lengthAdjust="spacingAndGlyphs" stroke="#111" stroke-width="0.35" >210</text>
<line x1="521.7" y1="347.7" x2="538.3" y2="347.7" stroke="#111" stroke-width="1.0"/>
<text x="496.0" y="103.0" font-family="Liberation Sans" font-size="10.09" font-weight="bold" text-anchor="middle" dominant-baseline="central" textLength="10.79" lengthAdjust="spacingAndGlyphs" stroke="#111" stroke-width="0.35" >60</text>
<text x="496.0" y="114.6" font-family="Liberation Sans" font-size="10.09" font-weight="bold" text-anchor="middle" dominant-baseline="central" textLength="10.79" lengthAdjust="spacingAndGlyphs" stroke="#111" stroke-width="0.35" >60</text>
<line x1="465.2" y1="109.0" x2="501.5" y2="109.0" stroke="#111" stroke-width="1.0"/>
<text x="378.3" y="162.3" font-family="Liberation Sans" font-size="10.09" font-weight="bold" text-anchor="middle" dominant-baseline="central" textLength="10.79" lengthAdjust="spacingAndGlyphs" stroke="#111" stroke-width="0.35" transform="rotate(-90 378.3 162.3)" >60</text>
<text x="390.7" y="162.3" font-family="Liberation Sans" font-size="10.09" font-weight="bold" text-anchor="middle" dominant-baseline="central" textLength="16.18" lengthAdjust="spacingAndGlyphs" stroke="#111" stroke-width="0.35" transform="rotate(-90 390.7 162.3)" >210</text>
<line x1="385.0" y1="150.7" x2="385.0" y2="171.7" stroke="#111" stroke-width="1.0"/>
<text x="497.0" y="304.8" font-family="Liberation Sans" font-size="10.09" font-weight="bold" text-anchor="middle" dominant-baseline="central" textLength="10.79" lengthAdjust="spacingAndGlyphs" stroke="#111" stroke-width="0.35" transform="rotate(-90 497.0 304.8)" >60</text>
<text x="508.6" y="304.8" font-family="Liberation Sans" font-size="10.09" font-weight="bold" text-anchor="middle" dominant-baseline="central" textLength="16.18" lengthAdjust="spacingAndGlyphs" stroke="#111" stroke-width="0.35" transform="rotate(-90 508.6 304.8)" >210</text>
<line x1="502.7" y1="294.2" x2="502.7" y2="314.2" stroke="#111" stroke-width="1.0"/>
<text x="504.0" y="512.3" font-family="Liberation Sans" font-size="10.09" font-weight="bold" text-anchor="middle" dominant-baseline="central" textLength="10.79" lengthAdjust="spacingAndGlyphs" stroke="#111" stroke-width="0.35" transform="rotate(-90 504.0 512.3)" >80</text>
<text x="515.8" y="512.3" font-family="Liberation Sans" font-size="10.09" font-weight="bold" text-anchor="middle" dominant-baseline="central" textLength="16.18" lengthAdjust="spacingAndGlyphs" stroke="#111" stroke-width="0.35" transform="rotate(-90 515.8 512.3)" >210</text>
<line x1="510.4" y1="502.0" x2="510.4" y2="521.7" stroke="#111" stroke-width="1.0"/>
<text x="566.0" y="201.3" font-family="Liberation Sans" font-size="10.09" font-weight="bold" text-anchor="middle" dominant-baseline="central" textLength="16.18" lengthAdjust="spacingAndGlyphs" stroke="#111" stroke-width="0.35" transform="rotate(-90 566.0 201.3)" >135</text>
<text x="577.1" y="201.3" font-family="Liberation Sans" font-size="10.09" font-weight="bold" text-anchor="middle" dominant-baseline="central" textLength="16.18" lengthAdjust="spacingAndGlyphs" stroke="#111" stroke-width="0.35" transform="rotate(-90 577.1 201.3)" >120</text>
<line x1="571.5" y1="194.2" x2="571.5" y2="232.7" stroke="#111" stroke-width="1.0"/>
<circle cx="242.3" cy="140.4" r="7.0" fill="none" stroke="#111" stroke-width="1.7"/>
<text x="242.3" y="140.9" font-family="Liberation Sans" font-size="9.88" font-weight="bold" text-anchor="middle" dominant-baseline="central" textLength="5.28" lengthAdjust="spacingAndGlyphs" stroke="#111" stroke-width="0.35" >3</text>
<circle cx="406.8" cy="111.4" r="7.0" fill="none" stroke="#111" stroke-width="1.7"/>
<text x="406.8" y="111.9" font-family="Liberation Sans" font-size="9.88" font-weight="bold" text-anchor="middle" dominant-baseline="central" textLength="5.28" lengthAdjust="spacingAndGlyphs" stroke="#111" stroke-width="0.35" >5</text>
<circle cx="254.8" cy="326.3" r="7.0" fill="none" stroke="#111" stroke-width="1.7"/>
<text x="254.8" y="326.8" font-family="Liberation Sans" font-size="9.88" font-weight="bold" text-anchor="middle" dominant-baseline="central" textLength="5.28" lengthAdjust="spacingAndGlyphs" stroke="#111" stroke-width="0.35" >2</text>
<circle cx="117.3" cy="305" r="7.0" fill="none" stroke="#111" stroke-width="1.7"/>
<text x="117.3" y="305.5" font-family="Liberation Sans" font-size="9.88" font-weight="bold" text-anchor="middle" dominant-baseline="central" textLength="5.28" lengthAdjust="spacingAndGlyphs" stroke="#111" stroke-width="0.35" >8</text>
<circle cx="486.8" cy="269.6" r="7.0" fill="none" stroke="#111" stroke-width="1.7"/>
<text x="486.8" y="270.1" font-family="Liberation Sans" font-size="9.88" font-weight="bold" text-anchor="middle" dominant-baseline="central" textLength="5.28" lengthAdjust="spacingAndGlyphs" stroke="#111" stroke-width="0.35" >7</text>
<circle cx="581" cy="310" r="7.0" fill="none" stroke="#111" stroke-width="1.7"/>
<text x="581.0" y="310.5" font-family="Liberation Sans" font-size="9.88" font-weight="bold" text-anchor="middle" dominant-baseline="central" textLength="5.28" lengthAdjust="spacingAndGlyphs" stroke="#111" stroke-width="0.35" >4</text>
<circle cx="446.8" cy="341.1" r="7.0" fill="none" stroke="#111" stroke-width="1.7"/>
<text x="446.8" y="341.6" font-family="Liberation Sans" font-size="9.88" font-weight="bold" text-anchor="middle" dominant-baseline="central" textLength="5.28" lengthAdjust="spacingAndGlyphs" stroke="#111" stroke-width="0.35" >6</text>
<circle cx="308" cy="501.1" r="7.0" fill="none" stroke="#111" stroke-width="1.7"/>
<text x="308.0" y="501.6" font-family="Liberation Sans" font-size="9.88" font-weight="bold" text-anchor="middle" dominant-baseline="central" textLength="5.28" lengthAdjust="spacingAndGlyphs" stroke="#111" stroke-width="0.35" >1</text>
</g>
<g transform="translate(743.3,235.8) matrix(1,-0.0157,-0.004,1,0,0)"><rect x="0" y="0" width="211.7" height="203.9" fill="none" stroke="#111" stroke-width="2.2"/><line x1="0" y1="31.7" x2="211.7" y2="31.7" stroke="#111" stroke-width="1.3"/><line x1="0" y1="49.5" x2="211.7" y2="49.5" stroke="#111" stroke-width="1.3"/><line x1="0" y1="66.7" x2="211.7" y2="66.7" stroke="#111" stroke-width="1.3"/><line x1="0" y1="83.9" x2="211.7" y2="83.9" stroke="#111" stroke-width="1.3"/><line x1="0" y1="101.2" x2="211.7" y2="101.2" stroke="#111" stroke-width="1.3"/><line x1="0" y1="117.2" x2="211.7" y2="117.2" stroke="#111" stroke-width="1.3"/><line x1="0" y1="134.2" x2="211.7" y2="134.2" stroke="#111" stroke-width="1.3"/><line x1="0" y1="150.9" x2="211.7" y2="150.9" stroke="#111" stroke-width="1.3"/><line x1="0" y1="167.9" x2="211.7" y2="167.9" stroke="#111" stroke-width="1.3"/><line x1="0" y1="185.0" x2="211.7" y2="185.0" stroke="#111" stroke-width="1.8"/><line x1="42.2" y1="0" x2="42.2" y2="150.9" stroke="#111" stroke-width="1.3"/><line x1="152.3" y1="0" x2="152.3" y2="203.9" stroke="#111" stroke-width="1.3"/><text x="20.5" y="16.5" font-family="Liberation Sans" font-size="10.0" font-weight="bold" text-anchor="middle" dominant-baseline="central" stroke="#111" stroke-width="0.3">Nr.ctr</text><text x="97" y="16.5" font-family="Liberation Sans" font-size="10.3" font-weight="bold" text-anchor="middle" dominant-baseline="central" stroke="#111" stroke-width="0.3">Denumire</text><text x="183" y="9.0" font-family="Liberation Sans" font-size="10.4" font-weight="bold" text-anchor="middle" dominant-baseline="central" stroke="#111" stroke-width="0.3" textLength="42.5" lengthAdjust="spacingAndGlyphs">Suprafat</text><text x="183" y="20.5" font-family="Liberation Sans" font-size="10.3" font-weight="bold" text-anchor="middle" dominant-baseline="central" stroke="#111" stroke-width="0.3">a [mp]</text><text x="20.5" y="40.9" font-family="Liberation Sans" font-size="10.5" font-weight="bold" text-anchor="middle" dominant-baseline="central" stroke="#111" stroke-width="0.3">1</text><text x="97" y="40.9" font-family="Liberation Sans" font-size="10.3" font-weight="bold" text-anchor="middle" dominant-baseline="central" stroke="#111" stroke-width="0.3">SUFRAGERIE</text><text x="183" y="40.9" font-family="Liberation Sans" font-size="10.3" font-weight="bold" text-anchor="middle" dominant-baseline="central" stroke="#111" stroke-width="0.3">16,62</text><text x="20.5" y="58.4" font-family="Liberation Sans" font-size="10.5" font-weight="bold" text-anchor="middle" dominant-baseline="central" stroke="#111" stroke-width="0.3">2</text><text x="97" y="58.4" font-family="Liberation Sans" font-size="10.3" font-weight="bold" text-anchor="middle" dominant-baseline="central" stroke="#111" stroke-width="0.3">DORMITOR</text><text x="183" y="58.4" font-family="Liberation Sans" font-size="10.3" font-weight="bold" text-anchor="middle" dominant-baseline="central" stroke="#111" stroke-width="0.3">9,28</text><text x="20.5" y="75.60000000000001" font-family="Liberation Sans" font-size="10.5" font-weight="bold" text-anchor="middle" dominant-baseline="central" stroke="#111" stroke-width="0.3">3</text><text x="97" y="75.60000000000001" font-family="Liberation Sans" font-size="10.3" font-weight="bold" text-anchor="middle" dominant-baseline="central" stroke="#111" stroke-width="0.3">DORMITOR</text><text x="183" y="75.60000000000001" font-family="Liberation Sans" font-size="10.3" font-weight="bold" text-anchor="middle" dominant-baseline="central" stroke="#111" stroke-width="0.3">11,51</text><text x="20.5" y="92.85000000000001" font-family="Liberation Sans" font-size="10.5" font-weight="bold" text-anchor="middle" dominant-baseline="central" stroke="#111" stroke-width="0.3">4</text><text x="97" y="92.85000000000001" font-family="Liberation Sans" font-size="10.3" font-weight="bold" text-anchor="middle" dominant-baseline="central" stroke="#111" stroke-width="0.3">BUCATARIE</text><text x="183" y="92.85000000000001" font-family="Liberation Sans" font-size="10.3" font-weight="bold" text-anchor="middle" dominant-baseline="central" stroke="#111" stroke-width="0.3">5,73</text><text x="20.5" y="109.5" font-family="Liberation Sans" font-size="10.5" font-weight="bold" text-anchor="middle" dominant-baseline="central" stroke="#111" stroke-width="0.3">5</text><text x="97" y="109.5" font-family="Liberation Sans" font-size="10.3" font-weight="bold" text-anchor="middle" dominant-baseline="central" stroke="#111" stroke-width="0.3">BAIE</text><text x="183" y="109.5" font-family="Liberation Sans" font-size="10.3" font-weight="bold" text-anchor="middle" dominant-baseline="central" stroke="#111" stroke-width="0.3">3,35</text><text x="20.5" y="125.99999999999999" font-family="Liberation Sans" font-size="10.5" font-weight="bold" text-anchor="middle" dominant-baseline="central" stroke="#111" stroke-width="0.3">6</text><text x="97" y="125.99999999999999" font-family="Liberation Sans" font-size="10.3" font-weight="bold" text-anchor="middle" dominant-baseline="central" stroke="#111" stroke-width="0.3">HOL</text><text x="183" y="125.99999999999999" font-family="Liberation Sans" font-size="10.3" font-weight="bold" text-anchor="middle" dominant-baseline="central" stroke="#111" stroke-width="0.3">13,26</text><text x="20.5" y="142.85000000000002" font-family="Liberation Sans" font-size="10.5" font-weight="bold" text-anchor="middle" dominant-baseline="central" stroke="#111" stroke-width="0.3">7</text><text x="97" y="142.85000000000002" font-family="Liberation Sans" font-size="10.3" font-weight="bold" text-anchor="middle" dominant-baseline="central" stroke="#111" stroke-width="0.3">DEBARA</text><text x="183" y="142.85000000000002" font-family="Liberation Sans" font-size="10.3" font-weight="bold" text-anchor="middle" dominant-baseline="central" stroke="#111" stroke-width="0.3">1,43</text><text x="6" y="159.70000000000002" font-family="Liberation Sans" font-size="10.3" font-weight="bold" text-anchor="start" dominant-baseline="central" stroke="#111" stroke-width="0.3" textLength="96.6" lengthAdjust="spacingAndGlyphs">Total suprafata utila</text><text x="183" y="159.70000000000002" font-family="Liberation Sans" font-size="10.3" font-weight="bold" text-anchor="middle" dominant-baseline="central" stroke="#111" stroke-width="0.3">61,18</text><text x="20.5" y="176.75" font-family="Liberation Sans" font-size="10.5" font-weight="bold" text-anchor="middle" dominant-baseline="central" stroke="#111" stroke-width="0.3">8</text><text x="97" y="176.75" font-family="Liberation Sans" font-size="10.3" font-weight="bold" text-anchor="middle" dominant-baseline="central" stroke="#111" stroke-width="0.3">BALCON</text><text x="183" y="176.75" font-family="Liberation Sans" font-size="10.3" font-weight="bold" text-anchor="middle" dominant-baseline="central" stroke="#111" stroke-width="0.3">7,64</text><text x="6" y="194.75" font-family="Liberation Sans" font-size="10.3" font-weight="bold" text-anchor="start" dominant-baseline="central" stroke="#111" stroke-width="0.3" textLength="72.5" lengthAdjust="spacingAndGlyphs">Total suprafata</text><text x="183" y="194.75" font-family="Liberation Sans" font-size="10.3" font-weight="bold" text-anchor="middle" dominant-baseline="central" stroke="#111" stroke-width="0.3">68,82</text></g>
<text x="75" y="640.6" font-family="Liberation Serif" font-size="14.6" font-weight="bold" fill="#111" textLength="322" lengthAdjust="spacingAndGlyphs" stroke="#111" stroke-width="0.3" transform="rotate(-1.65 75 640.6)">Numele şi prenumele executantului : ERHAN GHEORGHE</text>
<text x="75" y="657.3" font-family="Liberation Serif" font-size="14.4" font-weight="bold" fill="#111" textLength="120.3" lengthAdjust="spacingAndGlyphs" stroke="#111" stroke-width="0.3" transform="rotate(-1.65 75 657.3)">Semnătura şi ştampila</text>
<text x="75" y="674" font-family="Liberation Serif" font-size="14.4" font-weight="bold" fill="#111" textLength="85" lengthAdjust="spacingAndGlyphs" stroke="#111" stroke-width="0.3" transform="rotate(-1.65 75 674)">Data 31.05.2002</text>
<text x="625.5" y="585.8" font-family="Liberation Serif" font-size="12.2" font-weight="bold" fill="#111" textLength="319" lengthAdjust="spacingAndGlyphs" stroke="#111" stroke-width="0.25" transform="rotate(-0.62 625.5 585.8)">OFICIUL&#160; DE CADASTRU, GEODEZIE SI CARTOGRAFIE</text>
<line x1="625.5" y1="601.6" x2="839.3" y2="598.9" stroke="#111" stroke-width="1.5"/>
<text x="625.5" y="627.5" font-family="Liberation Serif" font-size="12.2" font-weight="bold" fill="#111" textLength="85.5" lengthAdjust="spacingAndGlyphs" stroke="#111" stroke-width="0.25" transform="rotate(-0.5 625.5 627.5)">RECEPTIONAT</text>
<line x1="711" y1="628.4" x2="836.4" y2="626.9" stroke="#111" stroke-width="1.4"/>
<text x="625.5" y="656" font-family="Liberation Serif" font-size="12.2" font-weight="bold" fill="#111" textLength="28" lengthAdjust="spacingAndGlyphs" stroke="#111" stroke-width="0.25">Data:</text>
<line x1="653.5" y1="656.7" x2="741.9" y2="656.5" stroke="#111" stroke-width="1.4"/>
<text x="746" y="702.6" font-family="Liberation Sans" font-size="18.6" font-weight="normal" fill="#0c0c0c" textLength="253.7" lengthAdjust="spacingAndGlyphs" stroke="#0c0c0c" stroke-width="0.35">Scanned with CamScanner</text>
<text x="600" y="4" font-family="Liberation Serif" font-size="10" fill="#555" fill-opacity="0.18" textLength="400" lengthAdjust="spacingAndGlyphs">si aviz de la Administratia financiara a sectorului pentru care s-a emis</text>
<text x="790" y="19" font-family="Liberation Serif" font-size="10" fill="#555" fill-opacity="0.14" textLength="210" lengthAdjust="spacingAndGlyphs">pentru intabulare conform legii nr. 7/1996</text>
<text x="755" y="50" font-family="Liberation Serif" font-size="12" fill="#555" fill-opacity="0.22" textLength="245" lengthAdjust="spacingAndGlyphs">lli ple 2000 anul, &#160; imobilul</text>
<text x="560" y="38" font-family="Liberation Serif" font-size="8" fill="#555" fill-opacity="0.3" textLength="3" lengthAdjust="spacingAndGlyphs">.</text>
<path d="M 283 633.5 C 275 637 262 641 258 644.5 C 258 646.5 263 645.5 266 644 L 283 634" fill="none" stroke="#111" stroke-width="1.4" stroke-linecap="round"/>
<path d="M 266 647.5 C 255 654 240 660 229 664" fill="none" stroke="#111" stroke-width="1.4" stroke-linecap="round"/>
<path d="M 268 648 L 220.5 689" fill="none" stroke="#111" stroke-width="1.4" stroke-linecap="round"/>
<path d="M 274.5 653 L 230 689" fill="none" stroke="#111" stroke-width="1.4" stroke-linecap="round"/>
<path d="M 274.5 652.5 C 273 658 271.5 663 270 668 C 262 676 255 684 253 689 C 256 686 261 680 263 676" fill="none" stroke="#111" stroke-width="1.4" stroke-linecap="round"/>
<path d="M 270 668 C 277 665 283 662 289 660" fill="none" stroke="#111" stroke-width="1.4" stroke-linecap="round"/>
<g><ellipse cx="407.2" cy="592.5" rx="55.5" ry="56.8" fill="none" stroke="#111" stroke-width="2.6"/><path id="ringA" d="M 420.49 633.40 A 43.0 43.0 0 0 1 374.75 620.71 A 43.0 43.0 0 0 1 368.55 573.65 A 43.0 43.0 0 0 1 409.45 549.56 A 43.0 43.0 0 0 1 447.61 577.79 " fill="none"/><text font-family="Liberation Sans" font-size="9.6" font-weight="bold" fill="#111" stroke="#111" stroke-width="0.3"><textPath href="#ringA" startOffset="0" textLength="200" lengthAdjust="spacingAndGlyphs">OFICIUL NATIONAL DE CADASTRU GEODEZIE ŞI CARTOGRAFIE</textPath></text><path id="ringB" d="M 433.96 635.33 A 50.5 50.5 0 0 0 445.60 625.30 A 50.5 50.5 0 0 0 453.69 612.23 A 50.5 50.5 0 0 0 457.47 597.34 A 50.5 50.5 0 0 0 456.60 582.00 " fill="none"/><text font-family="Liberation Sans" font-size="10.5" font-weight="bold" fill="#111" stroke="#111" stroke-width="0.3"><textPath href="#ringB" startOffset="0" textLength="56" lengthAdjust="spacingAndGlyphs">ROMÂNIA</textPath></text><text x="380.6" y="577.8" font-family="Liberation Sans" font-size="9.4" font-weight="bold" text-anchor="middle" dominant-baseline="central" stroke="#111" stroke-width="0.3" textLength="54" lengthAdjust="spacingAndGlyphs" transform="rotate(-61 380.6 577.8)" fill="#111">CERTIFICAT</text><text x="388.4" y="585.6" font-family="Liberation Sans" font-size="9.4" font-weight="bold" text-anchor="middle" dominant-baseline="central" stroke="#111" stroke-width="0.3" textLength="9" lengthAdjust="spacingAndGlyphs" transform="rotate(-61 388.4 585.6)" fill="#111">DE</text><text x="397.1" y="589" font-family="Liberation Sans" font-size="9.4" font-weight="bold" text-anchor="middle" dominant-baseline="central" stroke="#111" stroke-width="0.3" textLength="44" lengthAdjust="spacingAndGlyphs" transform="rotate(-61 397.1 589)" fill="#111">AUTORIZARE</text><text x="409.2" y="583.8" font-family="Liberation Sans" font-size="9.4" font-weight="bold" text-anchor="middle" dominant-baseline="central" stroke="#111" stroke-width="0.3" textLength="74" lengthAdjust="spacingAndGlyphs" transform="rotate(-61 409.2 583.8)" fill="#111">SERIA B NR. 0759</text><text x="414.5" y="599.5" font-family="Liberation Sans" font-size="9.4" font-weight="bold" text-anchor="middle" dominant-baseline="central" stroke="#111" stroke-width="0.3" textLength="28" lengthAdjust="spacingAndGlyphs" transform="rotate(-61 414.5 599.5)" fill="#111">A.B.C.</text><text x="425.7" y="600.4" font-family="Liberation Sans" font-size="9.4" font-weight="bold" text-anchor="middle" dominant-baseline="central" stroke="#111" stroke-width="0.3" textLength="74" lengthAdjust="spacingAndGlyphs" transform="rotate(-61 425.7 600.4)" fill="#111">ERHAN GHEORGHE</text></g>
<g clip-path="url(#clipR)"><circle cx="1019.2" cy="233" r="55.8" fill="none" stroke="#111" stroke-width="2"/><path id="ringC" d="M 1019.2 280 A 47 47 0 0 1 972.2 233 A 47 47 0 0 1 1019.2 186" fill="none"/><text font-family="Liberation Sans" font-size="9.5" font-weight="bold" fill="#111"><textPath href="#ringC" startOffset="12%">MINISTERUL ADMINISTRA</textPath></text><path id="ringD" d="M 1009.2 269 A 36 36 0 0 1 983.2 233 A 36 36 0 0 1 1019.2 197" fill="none"/><text font-family="Liberation Sans" font-size="6.5" font-weight="bold" fill="#222"><textPath href="#ringD" startOffset="8%">CADASTRU, GEODEZIE SI CARTOG</textPath></text><polyline points="1003,209 986.7,225.6 1008,248.5" fill="none" stroke="#222" stroke-width="1.2"/><path d="M 999 216 q 3 -3 6 -1 q 3 2 1 6 q -4 1 -3 5 q 3 3 1 6 q -3 4 -1 7 M 997 228 q 2 -4 5 -3 q 3 3 0 7 q -3 2 -1 5 M 1001 220 l 4 2 M 999 233 q 4 1 7 -2" fill="none" stroke="#1a1a1a" stroke-width="1.8"/></g>
<text x="956.5" y="194.5" font-family="Liberation Sans" font-size="8.2" font-weight="bold" text-anchor="middle" dominant-baseline="central" fill="#111" textLength="42" lengthAdjust="spacingAndGlyphs" transform="rotate(-51 956.5 194.5)" stroke="#111" stroke-width="0.3">Ing. MARIA</text>
<line x1="948" y1="176" x2="950" y2="181" stroke="#333" stroke-width="1"/>
</svg>
</body></html>
